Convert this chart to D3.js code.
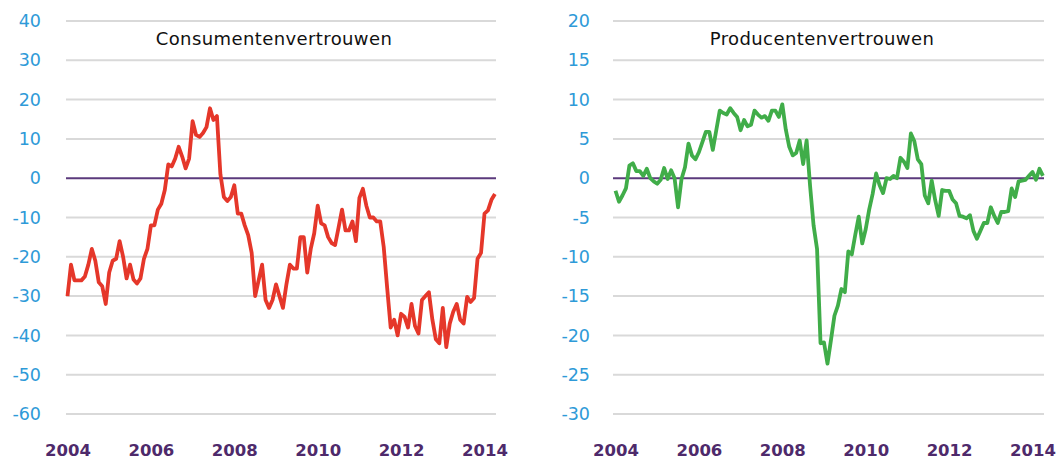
<!DOCTYPE html>
<html>
<head>
<meta charset="utf-8">
<script src="https://d3js.org/d3.v7.min.js"></script>
<title>Vertrouwen</title>
<style>
body { margin: 0; background: #fff; }
svg { display: block; }
</style>
</head>
<body>
<script>

var width = 1062,
    height = 459;

// maandcijfers, januari 2004 t/m april 2014
var startYear = 2004;
var yearTicks = [2004, 2006, 2008, 2010, 2012, 2014];

var consumenten = [
  -30, -22, -26, -26, -26, -25, -22, -18, -21, -26.5, -27.5, -32,
  -24, -21, -20.5, -16, -20, -25.5, -22, -25.8, -26.8, -25.5, -20.5, -18,
  -12, -12, -8, -6.5, -3, 3.5, 3, 5, 8, 5.5, 2.5, 5,
  14.5, 11, 10.5, 11.5, 13, 17.8, 14.8, 15.8, 1, -4.8, -5.8, -4.8,
  -1.8, -9, -9, -12, -14.5, -19, -30, -26, -22, -31, -33, -31,
  -27, -30, -33, -27, -22, -23, -23, -15, -15, -24, -18, -14,
  -7, -11.5, -12, -15, -16.5, -17, -12.6, -8, -13.3, -13.3, -11, -16,
  -5, -2.7, -7, -10, -10, -11, -11, -17.5, -28, -38, -36, -40,
  -34.5, -35.3, -38, -32, -37.6, -39.5, -31, -30, -29, -36, -41, -42,
  -33, -43, -37, -34, -32, -36, -37, -30.2, -31.5, -30.5, -20.5, -19,
  -9, -8.2, -5.5, -4
];

var producenten = [
  -1.6, -3, -2.2, -1.3, 1.6, 1.9, 0.9, 0.9, 0.3, 1.2, 0, -0.4,
  -0.7, -0.2, 1.3, -0.1, 1, 0, -3.7, -0.1, 1.4, 4.4, 2.9, 2.4,
  3.3, 4.6, 5.9, 5.9, 3.6, 6.1, 8.6, 8.3, 8.1, 8.9, 8.3, 7.8,
  6.1, 7.4, 6.6, 6.8, 8.6, 8.1, 7.7, 7.9, 7.3, 8.6, 8.6, 7.8,
  9.4, 6.2, 4, 2.9, 3.2, 4.8, 1.8, 4.8, -1, -6, -9, -21,
  -20.9, -23.6, -20.6, -17.5, -16.2, -14.1, -14.5, -9.3, -9.7, -7.2, -4.9, -8.3,
  -6.5, -4, -2, 0.6, -0.9, -1.9, 0, -0.1, 0.3, 0, 2.6, 2.1,
  1.3, 5.7, 4.7, 2.4, 1.8, -2.2, -3.2, -0.3, -2.8, -4.8, -1.5, -1.6,
  -1.6, -2.7, -3.2, -4.8, -4.9, -5.1, -4.7, -6.7, -7.7, -6.7, -5.7, -5.7,
  -3.7, -4.8, -5.7, -4.3, -4.3, -4.2, -1.3, -2.4, -0.4, -0.3, -0.2, 0.3,
  0.8, -0.2, 1.2, 0.3
];

var consTicks = [40, 30, 20, 10, 0, -10, -20, -30, -40, -50, -60];
var prodTicks = [20, 15, 10, 5, 0, -5, -10, -15, -20, -25, -30];

var svg = d3.select("body")
  .append("svg")
  .attr("width", width)
  .attr("height", height);

function panel(opts) {
  var g = svg.append("g");

  var x = d3.scaleLinear()
      .domain([2004, 2014])
      .range([opts.x0, opts.x0 + 417]);

  var y = d3.scaleLinear()
      .domain(d3.extent(opts.ticks))
      .range([414, 21]);

  // rasterlijnen
  g.selectAll("line.grid")
    .data(opts.ticks.filter(function(t) { return t !== 0; }))
    .enter()
    .append("line")
    .attr("class", "grid")
    .attr("x1", opts.gridL)
    .attr("x2", opts.gridR)
    .attr("y1", function(d) { return y(d); })
    .attr("y2", function(d) { return y(d); })
    .attr("stroke", "#d9d9d9")
    .attr("stroke-width", 2);

  // y-as labels (gewoon streepje als minteken)
  var yAxis = d3.axisLeft(y).tickValues(opts.ticks)
    .tickFormat(function(d) { return String(d); })
    .tickSize(0).tickPadding(0);
  var ya = g.append("g")
    .attr("transform", "translate(" + opts.labelX + ",0)")
    .call(yAxis);
  ya.select(".domain").remove();
  ya.selectAll("text")
    .attr("fill", "#2e9ad8")
    .style("font-family", "'DejaVu Sans', Verdana, sans-serif")
    .style("font-size", "17.5px");

  // x-as labels
  var xAxis = d3.axisBottom(x).tickValues(yearTicks)
    .tickFormat(function(d) { return String(d); })
    .tickSize(0).tickPadding(0);
  var xa = g.append("g")
    .attr("transform", "translate(0,441)")
    .call(xAxis);
  xa.select(".domain").remove();
  xa.selectAll("text")
    .attr("fill", "#4e2a6b")
    .attr("dy", "0.9em")
    .style("font-family", "'DejaVu Sans', Verdana, sans-serif")
    .style("font-weight", "bold")
    .style("font-size", "16.5px");

  // titel
  g.append("text")
    .attr("x", opts.titleX)
    .attr("y", 45)
    .attr("text-anchor", "middle")
    .attr("fill", "#111")
    .style("font-family", "'DejaVu Sans', Verdana, sans-serif")
    .style("font-size", "18px")
    .style("letter-spacing", "0.4px")
    .text(opts.title);

  // nullijn
  g.append("line")
    .attr("x1", opts.gridL)
    .attr("x2", opts.gridR)
    .attr("y1", y(0))
    .attr("y2", y(0))
    .attr("stroke", "#5b3a7c")
    .attr("stroke-width", 2);

  var line = d3.line()
    .x(function(d, i) { return x(startYear + i / 12); })
    .y(function(d) { return y(d); });

  g.append("path")
    .datum(opts.values)
    .attr("fill", "none")
    .attr("stroke", opts.color)
    .attr("stroke-width", 3.8)
    .attr("stroke-linejoin", "round")
    .attr("d", line);
}

panel({
  values: consumenten, ticks: consTicks, color: "#e5372a",
  x0: 67.5, gridL: 66, gridR: 496, labelX: 41,
  title: "Consumentenvertrouwen", titleX: 274
});

panel({
  values: producenten, ticks: prodTicks, color: "#40ad49",
  x0: 615.5, gridL: 613, gridR: 1044, labelX: 590,
  title: "Producentenvertrouwen", titleX: 822
});

</script>
</body>
</html>
